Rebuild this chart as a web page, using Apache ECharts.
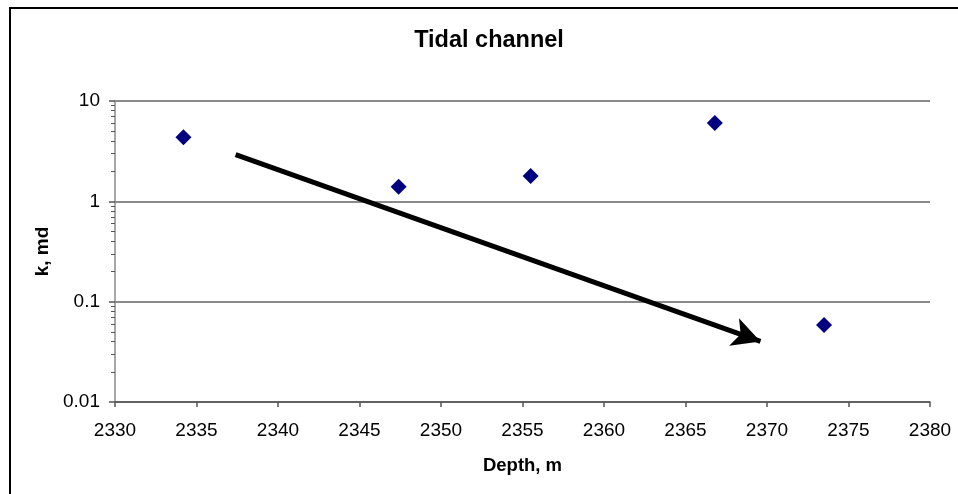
<!DOCTYPE html>
<html>
<head>
<meta charset="utf-8">
<script src="https://cdn.jsdelivr.net/npm/echarts@6/dist/echarts.min.js"></script>
<style>
  html, body { margin: 0; padding: 0; background: #fff; }
  #chart { width: 958px; height: 494px; }
</style>
</head>
<body>
<div id="chart"></div>
<script>
// Permeability samples against depth
const depths = [2334.2, 2347.4, 2355.5, 2366.8, 2373.5];
const permeability = [4.35, 1.40, 1.79, 6.05, 0.0586];

// Trend arrow: start and tip (depth, k)
const trendStart = [2337.4, 2.92];
const trendEnd = [2369.6, 0.0402];

// Axis ticks
const xTicks = [2330, 2335, 2340, 2345, 2350, 2355, 2360, 2365, 2370, 2375, 2380];
const yTicks = [0.01, 0.1, 1, 10];
const yMinorTicks = [
  0.02, 0.03, 0.04, 0.05, 0.06, 0.07, 0.08, 0.09,
  0.2, 0.3, 0.4, 0.5, 0.6, 0.7, 0.8, 0.9,
  2, 3, 4, 5, 6, 7, 8, 9
];

const FONT = '"Liberation Sans", Arial, sans-serif';
const chart = echarts.init(document.getElementById('chart'), null, { renderer: 'canvas' });

const gridColor = '#8a8a8a';

chart.setOption({
  animation: false,
  backgroundColor: '#fff',
  title: {
    text: 'Tidal channel',
    left: 484,
    top: 24,
    textAlign: 'center',
    textStyle: { fontFamily: FONT, fontSize: 23.5, fontWeight: 'bold', color: '#000' }
  },
  grid: { left: 115, right: 28, top: 101, bottom: 92, containLabel: false },
  xAxis: {
    type: 'value',
    min: xTicks[0],
    max: xTicks[xTicks.length - 1],
    interval: 5,
    name: 'Depth, m',
    nameLocation: 'middle',
    nameGap: 54,
    nameTextStyle: { fontFamily: FONT, fontSize: 18.5, fontWeight: 'bold', color: '#000' },
    axisLine: { show: true, lineStyle: { color: '#555', width: 1.5 } },
    axisTick: { show: true, length: 5, lineStyle: { color: '#555', width: 1.5 } },
    axisLabel: {
      fontFamily: FONT, fontSize: 19, color: '#000', margin: 19,
      formatter: v => String(v)
    },
    splitLine: { show: false }
  },
  yAxis: [
    {
      type: 'log',
      logBase: 10,
      min: yTicks[0],
      max: yTicks[yTicks.length - 1],
      name: 'k, md',
      nameLocation: 'middle',
      nameGap: 62,
      nameRotate: 90,
      nameTextStyle: { fontFamily: FONT, fontSize: 19, fontWeight: 'bold', color: '#000' },
      axisLine: { show: true, lineStyle: { color: gridColor, width: 1.5 } },
      axisTick: { show: true, length: 6, lineStyle: { color: '#555', width: 1.5 } },
      axisLabel: {
        fontFamily: FONT, fontSize: 19, color: '#000', margin: 15,
        formatter: v => String(parseFloat(v.toPrecision(6)))
      },
      splitLine: { show: true, lineStyle: { color: gridColor, width: 2 } }
    },
    {
      type: 'log',
      logBase: 10,
      min: yTicks[0],
      max: yTicks[yTicks.length - 1],
      position: 'left',
      axisLine: { show: false },
      axisTick: { show: true, length: 4, customValues: yMinorTicks, lineStyle: { color: '#555', width: 1 } },
      axisLabel: { show: false },
      splitLine: { show: false }
    }
  ],
  graphic: [
    {
      type: 'polyline',
      silent: true,
      shape: { points: [[10, 494], [10, 8], [958, 8]] },
      style: { stroke: '#000', lineWidth: 2, fill: null }
    }
  ],
  series: [
    {
      type: 'scatter',
      yAxisIndex: 0,
      symbol: 'diamond',
      symbolSize: 16,
      itemStyle: { color: '#000080', opacity: 1 },
      data: depths.map((d, i) => [d, permeability[i]]),
      markLine: {
        silent: true,
        symbol: ['none', 'arrow'],
        symbolSize: [22, 28],
        label: { show: false },
        emphasis: { disabled: true },
        lineStyle: { color: '#000', width: 5, type: 'solid', opacity: 1 },
        data: [[{ coord: trendStart }, { coord: trendEnd }]]
      }
    }
  ]
});
</script>
</body>
</html>
